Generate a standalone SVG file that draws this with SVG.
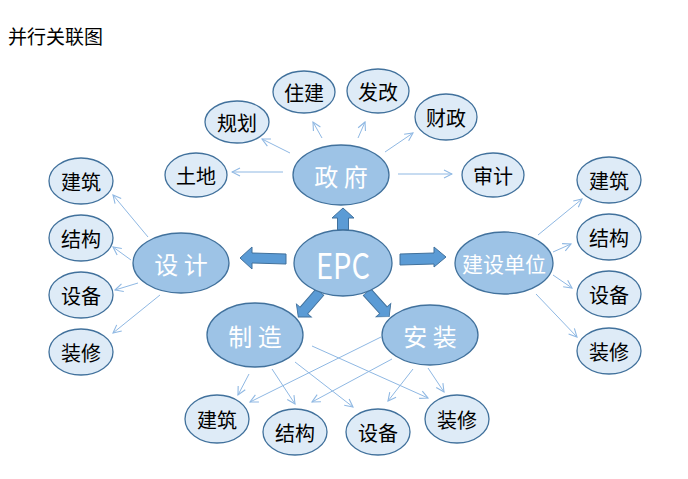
<svg xmlns="http://www.w3.org/2000/svg" width="688" height="479" viewBox="0 0 688 479">
<style>
.big{fill:#9dc3e6;stroke:#41719c;stroke-width:1.3}
.sm{fill:#deebf7;stroke:#41719c;stroke-width:1.3}
.bt{font-family:"Noto Sans CJK SC","Noto Sans",sans-serif;font-size:24px;fill:#fff;text-anchor:middle;dominant-baseline:central}
.st{font-family:"Noto Sans CJK SC","Noto Sans",sans-serif;font-size:20px;fill:#000;text-anchor:middle;dominant-baseline:central}
.ln{stroke:#8fb8e3;stroke-width:1;fill:none;marker-end:url(#ah)}
.blk{fill:#5b9bd5;stroke:#41719c;stroke-width:1}
</style>
<defs>
<marker id="ah" viewBox="0 0 10 10" refX="9" refY="5" markerWidth="10" markerHeight="10" markerUnits="userSpaceOnUse" orient="auto">
<path d="M1,1 L9,5 L1,9" fill="none" stroke="#8fb8e3" stroke-width="1.1"/>
</marker>
<path id="blkarrow" d="M0,-5 L34,-5 L34,-10 L46,0 L34,10 L34,5 L0,5 Z"/>
</defs>
<rect width="688" height="479" fill="#fff"/>
<text x="8" y="35" font-family="'Noto Sans CJK SC','Noto Sans',sans-serif" font-size="19" fill="#000" dominant-baseline="central">并行关联图</text>

<g id="connectors">
<line class="ln" x1="283" y1="172" x2="232" y2="172"/>
<line class="ln" x1="290" y1="153" x2="262" y2="139"/>
<line class="ln" x1="322" y1="138" x2="313" y2="122"/>
<line class="ln" x1="358" y1="138" x2="365" y2="122"/>
<line class="ln" x1="385" y1="152" x2="413" y2="133"/>
<line class="ln" x1="398" y1="174" x2="452" y2="174"/>
<line class="ln" x1="148" y1="237" x2="113" y2="195"/>
<line class="ln" x1="131" y1="260" x2="113" y2="247"/>
<line class="ln" x1="138" y1="283" x2="115" y2="290"/>
<line class="ln" x1="160" y1="295" x2="113" y2="333"/>
<line class="ln" x1="538" y1="235" x2="582" y2="199"/>
<line class="ln" x1="553" y1="252" x2="571" y2="244"/>
<line class="ln" x1="553" y1="275" x2="572" y2="288"/>
<line class="ln" x1="536" y1="294" x2="577" y2="337"/>
<line class="ln" x1="249" y1="374" x2="238" y2="395"/>
<line class="ln" x1="272" y1="369" x2="295" y2="404"/>
<line class="ln" x1="295" y1="362" x2="353" y2="407"/>
<line class="ln" x1="312" y1="346" x2="428" y2="398"/>
<line class="ln" x1="381" y1="337" x2="250" y2="402"/>
<line class="ln" x1="392" y1="359" x2="312" y2="402"/>
<line class="ln" x1="413" y1="369" x2="388" y2="401"/>
<line class="ln" x1="428" y1="368" x2="444" y2="392"/>
<path class="blk" d="M337.5,230 L337.5,218 L332,218 L343,208 L354,218 L348.5,218 L348.5,230 Z"/>
<path class="blk" d="M286,254 L252,253 L252,247 L240,258 L252,269 L252,263 L286,264 Z"/>
<path class="blk" d="M400,254 L434,253 L434,247 L446,257 L434,267 L434,264 L400,265 Z"/>
<use href="#blkarrow" class="blk" transform="translate(320,292) rotate(131) scale(0.72,1)"/>
<use href="#blkarrow" class="blk" transform="translate(367,292) rotate(48) scale(0.72,1)"/>
</g>

<g id="epc"><ellipse class="big" cx="343" cy="263" rx="49" ry="33"/><text x="343" y="263" class="bt" style="font-size:36px" textLength="54" lengthAdjust="spacingAndGlyphs">EPC</text></g>
<g id="zhengfu"><ellipse class="big" cx="341" cy="175" rx="48" ry="30"/><text x="341" y="175" class="bt">政 府</text></g>
<g id="sheji"><ellipse class="big" cx="181" cy="263" rx="48" ry="30"/><text x="181" y="263" class="bt">设 计</text></g>
<g id="jianshedanwei"><ellipse class="big" cx="504" cy="263" rx="49" ry="31"/><text x="504" y="263" class="bt" style="font-size:21px">建设单位</text></g>
<g id="zhizao"><ellipse class="big" cx="255" cy="335" rx="48" ry="32"/><text x="255" y="335" class="bt">制 造</text></g>
<g id="anzhuang"><ellipse class="big" cx="430" cy="335" rx="48" ry="30"/><text x="430" y="335" class="bt">安 装</text></g>

<g id="tudi"><ellipse class="sm" cx="196" cy="175" rx="31" ry="22"/><text x="196" y="175" class="st">土地</text></g>
<g id="guihua"><ellipse class="sm" cx="237" cy="122" rx="32" ry="21"/><text x="237" y="122" class="st">规划</text></g>
<g id="zhujian"><ellipse class="sm" cx="304" cy="92" rx="31" ry="21"/><text x="304" y="92" class="st">住建</text></g>
<g id="fagai"><ellipse class="sm" cx="378" cy="91" rx="31" ry="22"/><text x="378" y="91" class="st">发改</text></g>
<g id="caizheng"><ellipse class="sm" cx="446" cy="117" rx="31" ry="23"/><text x="446" y="117" class="st">财政</text></g>
<g id="shenji"><ellipse class="sm" cx="493" cy="175" rx="31" ry="22"/><text x="493" y="175" class="st">审计</text></g>

<g id="l-jianzhu"><ellipse class="sm" cx="81" cy="181" rx="32" ry="23"/><text x="81" y="181" class="st">建筑</text></g>
<g id="l-jiegou"><ellipse class="sm" cx="81" cy="238" rx="32" ry="23"/><text x="81" y="238" class="st">结构</text></g>
<g id="l-shebei"><ellipse class="sm" cx="81" cy="295" rx="32" ry="23"/><text x="81" y="295" class="st">设备</text></g>
<g id="l-zhuangxiu"><ellipse class="sm" cx="81" cy="352" rx="32" ry="23"/><text x="81" y="352" class="st">装修</text></g>

<g id="r-jianzhu"><ellipse class="sm" cx="609" cy="180" rx="32" ry="23"/><text x="609" y="180" class="st">建筑</text></g>
<g id="r-jiegou"><ellipse class="sm" cx="609" cy="237" rx="32" ry="23"/><text x="609" y="237" class="st">结构</text></g>
<g id="r-shebei"><ellipse class="sm" cx="609" cy="294" rx="32" ry="23"/><text x="609" y="294" class="st">设备</text></g>
<g id="r-zhuangxiu"><ellipse class="sm" cx="609" cy="351" rx="32" ry="23"/><text x="609" y="351" class="st">装修</text></g>

<g id="b-jianzhu"><ellipse class="sm" cx="217" cy="419" rx="32" ry="24"/><text x="217" y="419" class="st">建筑</text></g>
<g id="b-jiegou"><ellipse class="sm" cx="295" cy="432" rx="32" ry="23"/><text x="295" y="432" class="st">结构</text></g>
<g id="b-shebei"><ellipse class="sm" cx="378" cy="432" rx="32" ry="23"/><text x="378" y="432" class="st">设备</text></g>
<g id="b-zhuangxiu"><ellipse class="sm" cx="457" cy="419" rx="32" ry="24"/><text x="457" y="419" class="st">装修</text></g>
</svg>
